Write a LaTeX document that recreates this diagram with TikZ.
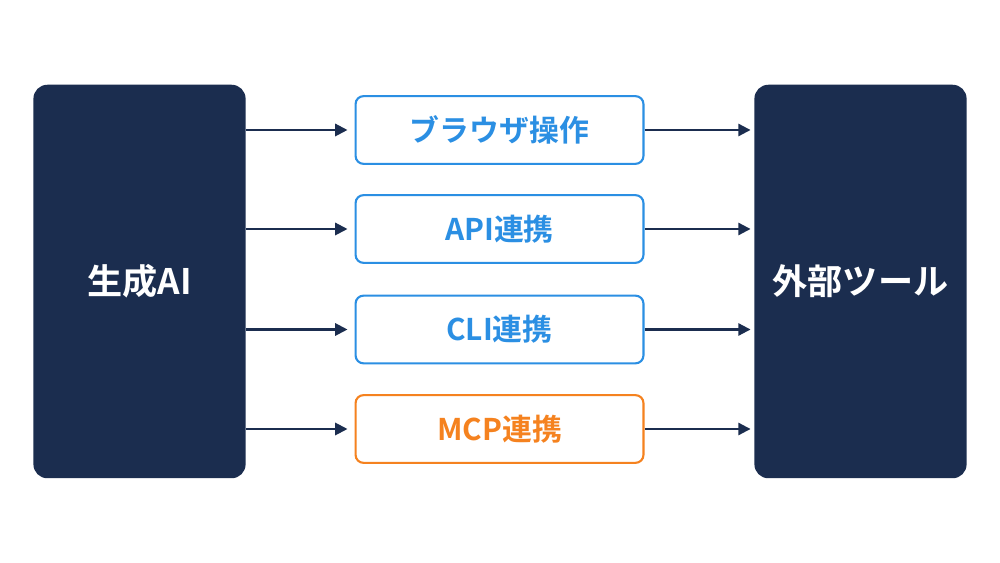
\documentclass[tikz,border=0pt]{standalone}
\usepackage{fontspec}
\newfontfamily\jp{Noto Sans CJK JP Bold}
\usetikzlibrary{arrows.meta}
\definecolor{navy}{HTML}{1B2D4F}
\definecolor{skyblue}{HTML}{2B8FE3}
\definecolor{orng}{HTML}{F5821F}
\tikzset{
  bigbox/.style={fill=navy, draw=none, rounded corners=14*0.567pt, minimum width=213*0.567pt, minimum height=395*0.567pt, text=white, font=\jp\fontsize{20}{22}\selectfont, inner sep=0pt},
  midbox/.style={draw=#1, line width=1.2pt, fill=white, rounded corners=8*0.567pt, minimum width=289*0.567pt, minimum height=68*0.567pt, text=#1, font=\jp\fontsize{17}{20}\selectfont, inner sep=0pt},
  conn/.style={draw=navy, line width=1.2pt, -{Triangle[length=7pt,width=7pt]}}
}
\begin{document}
\begin{tikzpicture}[x=0.02cm,y=-0.02cm]
\useasboundingbox[fill=white] (0,0) rectangle (1000,563);
\node[bigbox] (L) at (139.5,281.5) {生成AI};
\node[bigbox] (R) at (860.5,281.5) {外部ツール};
\node[midbox=skyblue] (M1) at (499.5,130) {ブラウザ操作};
\node[midbox=skyblue] (M2) at (499.5,229) {API連携};
\node[midbox=skyblue] (M3) at (499.5,329.5) {CLI連携};
\node[midbox=orng] (M4) at (499.5,429) {MCP連携};
\foreach \m in {M1,M2,M3,M4}{
  \draw[conn, shorten >=4pt] (\m.west -| L.east) -- (\m.west);
  \draw[conn, shorten >=2pt] (\m.east) -- (\m.east -| R.west);
}
\end{tikzpicture}
\end{document}
